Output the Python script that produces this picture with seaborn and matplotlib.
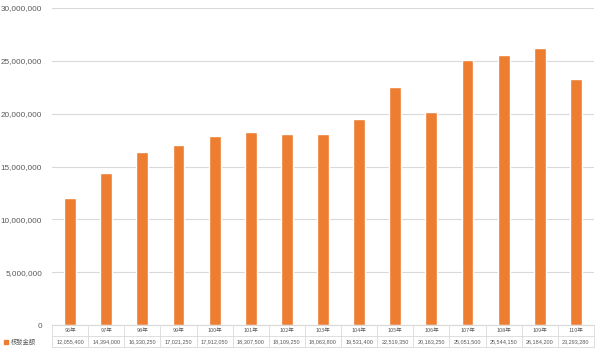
import matplotlib
matplotlib.use("Agg")
import matplotlib.pyplot as plt
import seaborn as sns
import pandas as pd
from matplotlib.transforms import blended_transform_factory

years = ["96年", "97年", "98年", "99年", "100年", "101年", "102年", "103年",
         "104年", "105年", "106年", "107年", "108年", "109年", "110年"]
amounts = [12055400, 14394000, 16330250, 17021250, 17912050, 18307500,
           18109250, 18063800, 19531400, 22519350, 20163250, 25051500,
           25544150, 26184200, 23293280]
series_name = "核發金額"
y_ticks = [0, 5000000, 10000000, 15000000, 20000000, 25000000, 30000000]

bar_color = "#ED7D31"
grid_color = "#D9D9D9"
text_color = "#595959"

sns.set_theme(style="white")
plt.rcParams["font.family"] = ["Noto Sans CJK TC", "DejaVu Sans"]

W, H = 604, 351
fig = plt.figure(figsize=(W / 100, H / 100), dpi=100)
ax = fig.add_axes([52 / W, (H - 325) / H, 542 / W, 317 / H])

df = pd.DataFrame({"year": years, "amount": amounts})
sns.barplot(data=df, x="year", y="amount", color=bar_color, width=0.33,
            saturation=1, ax=ax)

ax.set_ylim(0, 30000000)
ax.set_xlim(-0.5, len(years) - 0.5)
ax.set_yticks(y_ticks)
ax.set_yticklabels([f"{v:,}" for v in y_ticks], fontsize=5.9,
                   color=text_color, family="Liberation Sans")
ax.tick_params(axis="y", length=0, pad=7)
ax.set_xticks([])
ax.set_xlabel("")
ax.set_ylabel("")
for s in ["top", "right", "left"]:
    ax.spines[s].set_visible(False)
ax.spines["bottom"].set_color(grid_color)
ax.spines["bottom"].set_linewidth(0.8)
ax.yaxis.grid(True, color=grid_color, linewidth=0.8)
ax.set_axisbelow(True)

# data table under the axis
tr = blended_transform_factory(ax.transData, fig.transFigure)
row1_top = (H - 326) / H
row_mid = (H - 336) / H
row2_bot = (H - 347) / H
n = len(years)
line_kw = dict(color=grid_color, linewidth=0.6, transform=tr, clip_on=False)
for i in range(n + 1):
    ax.plot([i - 0.5, i - 0.5], [row2_bot, row1_top], **line_kw)
ax.plot([-0.5, n - 0.5], [row_mid, row_mid], **line_kw)
ax.plot([-0.5, n - 0.5], [row2_bot, row2_bot], **line_kw)

for i, (yr, val) in enumerate(zip(years, amounts)):
    ax.text(i, (row1_top + row_mid) / 2, yr, transform=tr, ha="center",
            va="center", fontsize=4, color=text_color)
    ax.text(i, (row_mid + row2_bot) / 2, f"{val:,}", transform=tr,
            ha="center", va="center", fontsize=4, color=text_color,
            family="Liberation Sans")

# legend key in the table's row header
ymid2 = (row_mid + row2_bot) / 2
fig.patches.append(plt.Rectangle((4 / W, ymid2 - 2 / H), 4 / W, 4 / H,
                                 color=bar_color, transform=fig.transFigure))
fig.text(11 / W, ymid2, series_name, ha="left", va="center", fontsize=4.5,
         color=text_color)

fig.savefig("out.png", dpi=100)
